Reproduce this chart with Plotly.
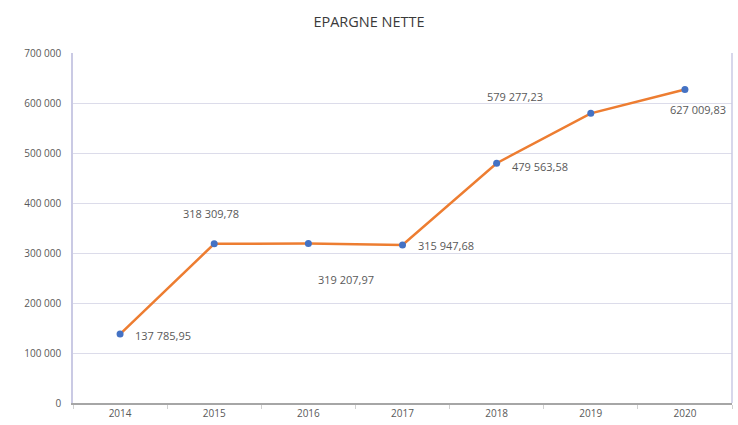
import plotly.graph_objects as go

years = ["2014", "2015", "2016", "2017", "2018", "2019", "2020"]
values = [137785.95, 318309.78, 319207.97, 315947.68, 479563.58, 579277.23, 627009.83]
y_ticks = [0, 100000, 200000, 300000, 400000, 500000, 600000, 700000]

# label offsets in pixels (x, y) relative to each point
label_dx = [13, -3, 38, 13, 13, -76, 13]
label_dy = [-1, 30, -36, 0, -3, 17, -20]
label_anchor = ["left", "center", "center", "left", "left", "center", "center"]


def fmt(v):
    s = f"{v:,.2f}"
    return s.replace(",", " ").replace(".", ",")


fig = go.Figure()
fig.add_trace(go.Scatter(
    x=years, y=values, mode="lines+markers",
    line=dict(color="#ED7D31", width=2.5),
    marker=dict(color="#4472C4", size=7),
    hoverinfo="skip", showlegend=False,
))

for i, (v, dx, dy, anc) in enumerate(zip(values, label_dx, label_dy, label_anchor)):
    fig.add_annotation(
        x=i, y=v, xref="x", yref="y", text=fmt(v), showarrow=False,
        xanchor=anc, yanchor="middle", xshift=dx, yshift=dy,
        font=dict(size=11, color="#595959"),
    )

fig.update_layout(
    width=738, height=425,
    margin=dict(l=73, r=6, t=53, b=22),
    paper_bgcolor="white", plot_bgcolor="white",
    font=dict(family="Open Sans, Liberation Sans, sans-serif", color="#595959"),
    separators=", ",
    title=dict(text="EPARGNE NETTE", x=0.5, xanchor="center", y=0.948, yanchor="middle",
               font=dict(size=14.5, color="#3A3A3A")),
    xaxis=dict(
        type="category", range=[-0.5, 6.5],
        showgrid=False, showline=True, linecolor="#A6A6A6", linewidth=1.5,
        ticks="outside", tickson="boundaries", ticklen=4, tickcolor="#D0D0D0",
        tickfont=dict(size=10, color="#595959"), mirror=False,
    ),
    yaxis=dict(
        range=[0, 700000], tickvals=y_ticks, tickformat=",d",
        showgrid=True, gridcolor="#DCDCEA", gridwidth=1,
        showline=True, linecolor="#CACAE4", linewidth=1.5,
        zeroline=False, ticks="", ticklabelstandoff=8,
        tickfont=dict(size=10, color="#595959"),
    ),
)
fig.add_shape(type="line", xref="paper", yref="paper", x0=1, x1=1, y0=0, y1=1,
              line=dict(color="#CACAE4", width=1.5))

fig.write_html("out.html", config={"displayModeBar": False},
               post_script="document.body.style.margin='0px';document.body.style.overflow='hidden';")
